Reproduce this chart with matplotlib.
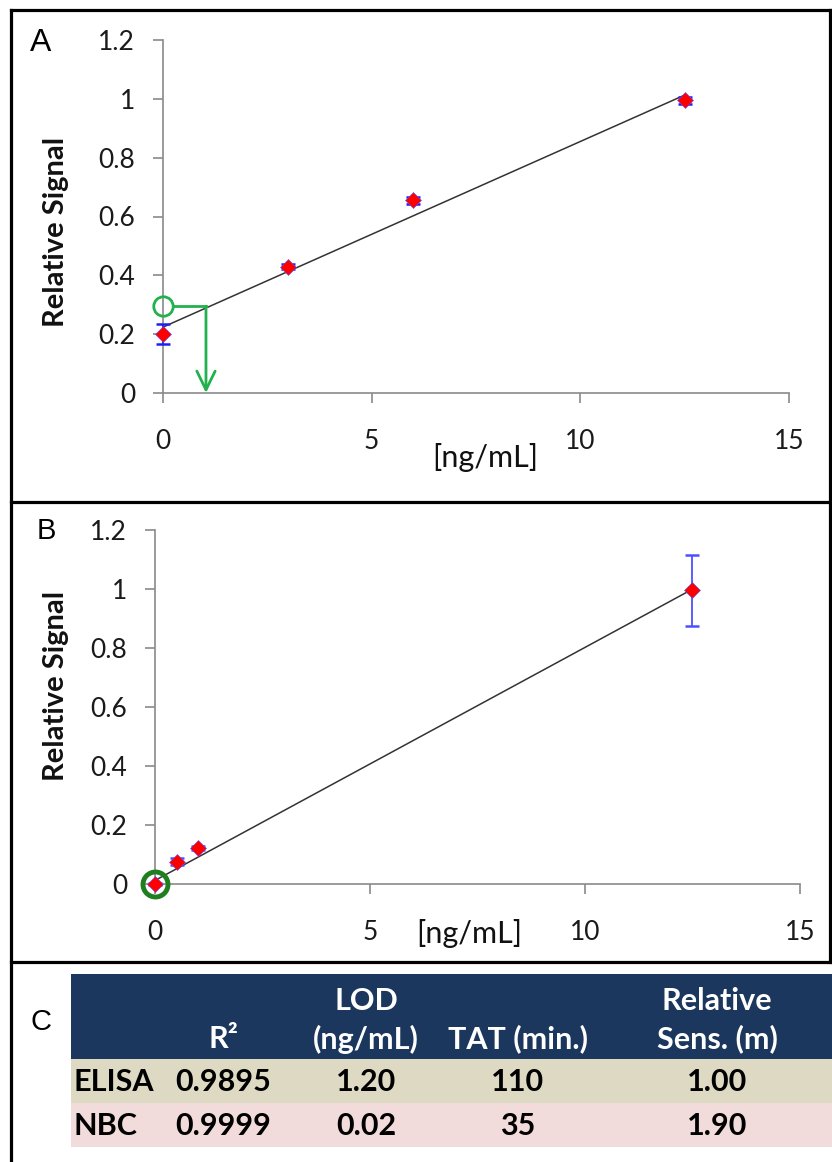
import numpy as np
import matplotlib
matplotlib.use('Agg')
import matplotlib.pyplot as plt
from matplotlib.patches import Rectangle

plt.rcParams['font.family'] = ['Lato', 'DejaVu Sans']

# panel A - ELISA standard curve
conc_a = [0, 3, 6, 12.5]
sig_a = [0.20, 0.43, 0.655, 0.995]
err_a = [0.035, 0.008, 0.012, 0.012]
fit_a = (0.0631, 0.224)      # slope, intercept
lod_a = (1.03, 0.295)        # LOD read-off: conc, signal

# panel B - NBC standard curve
conc_b = [0, 0.5, 1.0, 12.5]
sig_b = [0.0, 0.075, 0.122, 0.995]
err_b = [0.004, 0.012, 0.008, 0.12]
fit_b = (0.079, 0.012)

xticks = [0, 5, 10, 15]
yticks = [0, 0.2, 0.4, 0.6, 0.8, 1.0, 1.2]
ytick_labels = ['0', '0.2', '0.4', '0.6', '0.8', '1', '1.2']

# panel C - summary table
head_top = ['', '', 'LOD', '', 'Relative']
head_bot = ['', 'R²', '(ng/mL)', 'TAT (min.)', 'Sens. (m)']
methods = ['ELISA', 'NBC']
r2 = ['0.9895', '0.9999']
lod = ['1.20', '0.02']
tat = ['110', '35']
sens = ['1.00', '1.90']

W, H = 832, 1162
fig = plt.figure(figsize=(W / 100, H / 100), dpi=100)

# overlay in pixel coords for frames, letters and the table
ov = fig.add_axes([0, 0, 1, 1])
ov.set_xlim(0, W)
ov.set_ylim(H, 0)
ov.axis('off')

lw_frame = 2.3
ov.plot([11, 11], [10, H], color='black', lw=lw_frame)
ov.plot([11, 830], [10, 10], color='black', lw=lw_frame)
ov.plot([830, 830], [10, 962], color='black', lw=lw_frame)
ov.plot([11, W], [502, 502], color='black', lw=lw_frame)
ov.plot([11, W], [962, 962], color='black', lw=lw_frame)

ov.text(41, 43, 'A', fontsize=23, family='Liberation Sans', ha='center', va='center')
ov.text(46, 531, 'B', fontsize=21, family='Liberation Sans', ha='center', va='center')
ov.text(41, 1022, 'C', fontsize=21, family='Liberation Sans', ha='center', va='center')

ov.text(56, 232, 'Relative Signal', rotation=90, fontsize=21, fontweight='bold',
        ha='center', va='center', color='#111111')
ov.text(56, 686, 'Relative Signal', rotation=90, fontsize=21, fontweight='bold',
        ha='center', va='center', color='#111111')
ov.text(485, 457, '[ng/mL]', fontsize=22, ha='center', va='center', color='#111111')
ov.text(469, 933, '[ng/mL]', fontsize=22, ha='center', va='center', color='#111111')


def panel(rect, conc, sig, err, fit, ecol):
    ax = fig.add_axes(rect)
    ax.set_facecolor('none')
    xs = np.array([0, 12.5])
    ax.plot(xs, fit[0] * xs + fit[1], color='#333333', lw=1.1, zorder=2)
    eb = ax.errorbar(conc, sig, yerr=err, fmt='none', ecolor=ecol, elinewidth=1.3,
                     capsize=5, capthick=1.8, zorder=3)
    for a in list(eb.lines[1]) + list(eb.lines[2]):
        a.set_clip_on(False)
    ax.plot(conc, sig, 'D', color='red', ms=8.5, mec='#5555ff', mew=0.4, zorder=4, clip_on=False)
    ax.set_xlim(0, 15)
    ax.set_ylim(0, 1.2)
    ax.set_xticks(xticks)
    ax.set_yticks(yticks)
    ax.set_yticklabels(ytick_labels)
    for s in ['top', 'right']:
        ax.spines[s].set_visible(False)
    for s in ['left', 'bottom']:
        ax.spines[s].set_color('#8a8a8a')
        ax.spines[s].set_linewidth(1.2)
    ax.tick_params(direction='out', length=7, width=1.2, color='#8a8a8a',
                   labelsize=19, labelcolor='#1a1a1a')
    ax.tick_params(axis='x', pad=19)
    ax.tick_params(axis='y', pad=13)
    return ax


ax_a = panel([163 / W, 1 - 393 / H, (789 - 163) / W, (393 - 40) / H],
             conc_a, sig_a, err_a, fit_a, '#2020ee')
green = '#22b14c'
ax_a.plot([0], [lod_a[1]], 'o', mfc='none', mec=green, ms=14, mew=2, clip_on=False, zorder=5)
ax_a.plot([0.25, lod_a[0]], [lod_a[1], lod_a[1]], color=green, lw=2, zorder=5)
ax_a.annotate('', xy=(lod_a[0], 0), xytext=(lod_a[0], lod_a[1]),
              arrowprops=dict(arrowstyle='->,head_length=0.45,head_width=0.22', color=green,
                              lw=2, mutation_scale=30, shrinkA=0, shrinkB=0), zorder=5)

ax_b = panel([155 / W, 1 - 884 / H, (800 - 155) / W, (884 - 530) / H],
             conc_b, sig_b, err_b, fit_b, '#4f4fff')
ax_b.plot([0], [0], 'o', mfc='none', mec='#1f7f1f', ms=18, mew=3.5, clip_on=False, zorder=5)

# table
x0, x1 = 71, W
ov.add_patch(Rectangle((x0, 974), x1 - x0, 85, color='#1b375e', lw=0))
row_cols = ['#ddd9c3', '#f2dcdb']
row_top = [1059, 1103]
for i in range(len(methods)):
    ov.add_patch(Rectangle((x0, row_top[i]), x1 - x0, 44, color=row_cols[i], lw=0))

col_x = [73, 223, 366, 518, 717]
for j in range(len(col_x)):
    if head_top[j]:
        ov.text(col_x[j], 1001, head_top[j], color='white', fontsize=22, fontweight='bold',
                ha='center', va='center')
    if head_bot[j]:
        ov.text(col_x[j], 1039, head_bot[j], color='white', fontsize=22, fontweight='bold',
                ha='center', va='center')

for i in range(len(methods)):
    yc = row_top[i] + 23
    ov.text(col_x[0], yc, methods[i], fontsize=22, fontweight='bold', ha='left', va='center')
    vals = [r2[i], lod[i], tat[i], sens[i]]
    for j in range(4):
        ov.text(col_x[j + 1], yc, vals[j], fontsize=22, fontweight='bold', ha='center', va='center')

fig.savefig('out.png', dpi=100)
